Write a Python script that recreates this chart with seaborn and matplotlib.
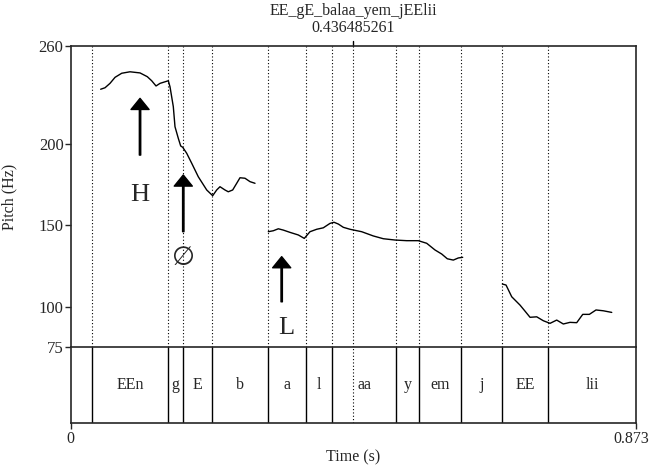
import numpy as np
import pandas as pd
import matplotlib
matplotlib.use("Agg")
import matplotlib.pyplot as plt
import matplotlib.transforms as mtransforms
import seaborn as sns

# ---------------- data ----------------
title = "EE_gE_balaa_yem_jEElii"
cursor_time = 0.436485261
t_end = 0.873

seg1_t = [0.0466, 0.0533, 0.0610, 0.0688, 0.0791, 0.0919, 0.1074, 0.1186, 0.1254, 0.1321,
          0.1383, 0.1511, 0.1537, 0.1588, 0.1614, 0.1665, 0.1702, 0.1733, 0.1795, 0.1872,
          0.1974, 0.2104, 0.2196, 0.2258, 0.2309, 0.2386, 0.2437, 0.2505, 0.2567, 0.2618,
          0.2695, 0.2773, 0.2850]
seg1_f = [233.3, 234.2, 236.9, 240.6, 243.1, 244.0, 243.3, 241.0, 238.5, 235.3,
          236.9, 238.5, 234.8, 222.6, 210.3, 203.2, 198.5, 197.7, 194.0, 187.9,
          179.6, 171.5, 168.0, 171.5, 173.5, 171.5, 170.4, 171.5, 175.6, 179.0,
          178.7, 176.6, 175.6]

seg2_t = [0.3055, 0.3133, 0.3210, 0.3287, 0.3390, 0.3519, 0.3611, 0.3699, 0.3803, 0.3905,
          0.4008, 0.4070, 0.4137, 0.4214, 0.4317, 0.4498, 0.4677, 0.4832, 0.5012, 0.5193,
          0.5372, 0.5502, 0.5630, 0.5734, 0.5820, 0.5913, 0.5990, 0.6058]
seg2_f = [145.9, 146.5, 147.7, 146.9, 145.5, 143.9, 141.8, 145.9, 147.4, 148.3,
          151.0, 151.7, 150.6, 148.6, 147.4, 145.9, 143.3, 141.6, 140.8, 140.4,
          140.4, 138.8, 134.7, 132.2, 129.3, 128.5, 129.8, 130.2]

seg3_t = [0.6670, 0.6727, 0.6815, 0.6943, 0.7020, 0.7098, 0.7201, 0.7303, 0.7407, 0.7510,
          0.7612, 0.7715, 0.7819, 0.7912, 0.8014, 0.8117, 0.8230, 0.8360]
seg3_f = [113.8, 113.2, 106.0, 100.9, 97.2, 93.4, 93.7, 91.3, 89.7, 91.7,
          89.3, 90.3, 90.1, 95.2, 95.2, 97.9, 97.4, 96.4]

boundaries = [0.0337, 0.1511, 0.1733, 0.2181, 0.3055, 0.3638, 0.4044, 0.5028,
              0.5388, 0.6027, 0.6670, 0.7380]
labels = ["EEn", "g", "E", "b", "a", "l", "aa", "y", "em", "j", "EE", "lii"]

yticks = [75, 100, 150, 200, 260]

# arrows: (time, tail Hz, tip Hz, label, label Hz)
arrow_t = [0.1074, 0.1742, 0.3262]
arrow_tail = [192.9, 145.9, 102.9]
arrow_tip = [227.7, 180.7, 130.6]
arrow_lab = ["H", "\u2205", "L"]
arrow_lab_f = [168.4, 129.0, 86.6]
arrow_lab_dt = [0.0, 0.0, 0.0065]

# ---------------- plot ----------------
sns.set_style("ticks")
plt.rcParams['font.family'] = ['Liberation Serif', 'DejaVu Serif']
plt.rcParams['font.size'] = 11.5

df = pd.concat([
    pd.DataFrame({"Time": seg1_t, "Pitch": seg1_f, "seg": 1}),
    pd.DataFrame({"Time": seg2_t, "Pitch": seg2_f, "seg": 2}),
    pd.DataFrame({"Time": seg3_t, "Pitch": seg3_f, "seg": 3}),
])

fig = plt.figure(figsize=(6.52, 4.69), dpi=100)
L, W = 70.5 / 652, (635.7 - 70.5) / 652
top_p, bot_p, bot_t = 1 - 45.7 / 469, 1 - 347.3 / 469, 1 - 422.7 / 469
ax = fig.add_axes([L, bot_p, W, top_p - bot_p])
ax2 = fig.add_axes([L, bot_t, W, bot_p - bot_t], sharex=ax)

sns.lineplot(data=df, x="Time", y="Pitch", units="seg", estimator=None,
             color="black", linewidth=1.0, ax=ax, sort=False)

ax.set_xlim(0, t_end)
ax.set_ylim(75, 260)
ax.set_yticks(yticks)
ax.set_yticklabels([str(v) for v in yticks])
ax.set_ylabel("Pitch (Hz)", fontsize=11.5)
ax.yaxis.set_label_coords((17 - 70.5) / 565.2, 0.5)
ax.set_xlabel("")
ax.tick_params(axis="x", bottom=False, labelbottom=False)
ax.tick_params(axis="y", length=4, width=1, pad=1, labelsize=12)
for s in ["top", "left", "right"]:
    ax.spines[s].set_linewidth(1.2)
    ax.spines[s].set_visible(True)
ax.spines["bottom"].set_visible(False)

for b in boundaries + [cursor_time]:
    ax.axvline(b, color="black", linestyle=(0, (1, 2)), linewidth=0.8)

# cursor tick at top
ax.plot([cursor_time, cursor_time], [1.0, 1.015], color="black", lw=1,
        transform=ax.get_xaxis_transform(), clip_on=False)

# arrows
for t, ft, fh, lab, lf, dt in zip(arrow_t, arrow_tail, arrow_tip, arrow_lab, arrow_lab_f, arrow_lab_dt):
    ax.annotate("", xy=(t, fh), xytext=(t, ft),
                arrowprops=dict(facecolor="black", edgecolor="black", width=1.0,
                                headwidth=13, headlength=8, shrink=0))
    ax.text(t + dt, lf, lab, ha="center", va="center", fontsize=19,
            family=['Liberation Serif', 'DejaVu Serif', 'DejaVu Sans'])

# tier
ax2.set_ylim(0, 1)
ax2.set_yticks([])
for s in ax2.spines.values():
    s.set_visible(True)
    s.set_linewidth(1.2)
for b in boundaries:
    ax2.axvline(b, color="black", linewidth=1.0)
ax2.axvline(cursor_time, color="black", linestyle=(0, (1, 2)), linewidth=0.8)
edges = boundaries + [t_end]
for i, lab in enumerate(labels):
    ax2.text((edges[i] + edges[i + 1]) / 2, 0.5, lab, ha="center", va="center", fontsize=11.5)
ax2.set_xticks([0, t_end])
ax2.set_xticklabels(["0", "0.873"])
ax2.tick_params(axis="x", length=4, width=1, pad=2, labelsize=11.5)
ax2.set_xlabel("Time (s)", fontsize=11.5, va="center")
ax2.xaxis.set_label_coords(0.5, (422.7 - 457.7) / 75.4)
# keep the right-hand tick label inside the canvas
last = ax2.get_xticklabels()[-1]
last.set_transform(last.get_transform() + mtransforms.ScaledTranslation(-3 / 72, 0, fig.dpi_scale_trans))

xc = (cursor_time) / t_end * W + L
fig.text(xc, 1 - 11 / 469, title, ha="center", va="center", fontsize=11.5)
fig.text(xc, 1 - 28 / 469, f"{cursor_time:.9f}", ha="center", va="center", fontsize=11.5)

fig.savefig("out.png", dpi=100)
